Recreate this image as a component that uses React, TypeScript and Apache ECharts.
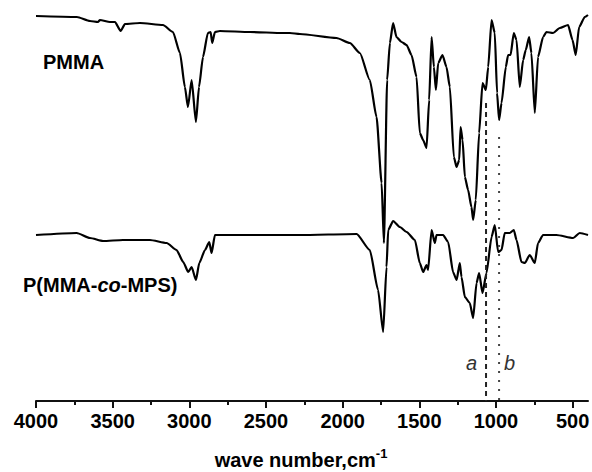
import React, { useEffect, useRef } from "react";
import * as echarts from "echarts";

// PMMA spectrum (wavenumber, cm^-1) and transmittance (arbitrary offset units)
const pmmaWavenumber = [
  4000, 3733, 3648, 3596, 3583, 3518, 3485, 3448, 3420, 3322, 3172, 3107, 3061, 3029, 3009, 2985, 2957, 2937,
  2911, 2879, 2861, 2851, 2833, 2801, 2605, 2390, 2344, 2279, 2040, 1953, 1888, 1823, 1779, 1746, 1731, 1710,
  1692, 1671, 1649, 1616, 1583, 1551, 1518, 1497, 1475, 1453, 1436, 1420, 1405, 1392, 1377, 1349, 1323, 1301,
  1275, 1257, 1240, 1231, 1218, 1203, 1182, 1160, 1149, 1132, 1110, 1088, 1066, 1051, 1029, 1008, 993, 980,
  964, 936, 921, 905, 884, 866, 845, 823, 806, 784, 769, 747, 726, 693, 671, 628, 584, 530, 501, 480, 458, 421, 400,
];
const pmmaTransmittance = [
  385, 384, 380, 379, 381, 379, 379, 370, 377, 378, 376, 369, 348, 314, 294, 321, 279, 314,
  344, 368, 369, 358, 369, 370, 369, 368, 368, 367, 363, 358, 348, 321, 284, 218, 158, 321,
  358, 378, 364, 359, 356, 346, 324, 268, 261, 253, 301, 364, 334, 311, 338, 346, 334, 314,
  244, 234, 241, 274, 261, 224, 211, 194, 181, 201, 268, 318, 311, 334, 381, 368, 308, 281,
  298, 334, 346, 346, 368, 361, 314, 341, 351, 364, 348, 288, 344, 364, 369, 368, 373, 376, 361, 346, 374, 384, 386,
];

// P(MMA-co-MPS) spectrum
const copolyWavenumber = [
  4000, 3735, 3648, 3563, 3433, 3257, 3148, 3083, 3040, 3007, 2985, 2957, 2935, 2898, 2870, 2855, 2833, 2716,
  2279, 1909, 1823, 1769, 1736, 1714, 1703, 1671, 1627, 1583, 1529, 1497, 1475, 1453, 1443, 1420, 1399, 1388,
  1345, 1312, 1280, 1257, 1236, 1225, 1203, 1171, 1149, 1127, 1110, 1088, 1062, 1029, 1008, 986, 964, 943,
  910, 884, 866, 834, 812, 780, 747, 726, 693, 606, 497, 454, 400,
];
const copolyTransmittance = [
  166, 168, 163, 160, 161, 161, 158, 151, 139, 129, 134, 121, 138, 151, 159, 148, 166, 166,
  166, 167, 151, 111, 69, 134, 171, 180, 174, 169, 161, 138, 129, 136, 131, 171, 158, 166,
  166, 159, 129, 121, 138, 124, 104, 98, 83, 118, 128, 108, 128, 164, 176, 149, 151, 168,
  168, 171, 161, 139, 138, 146, 138, 158, 166, 166, 163, 168, 166,
];

const majorTicks = [4000, 3500, 3000, 2500, 2000, 1500, 1000, 500];
const minorTicks = [3750, 3250, 2750, 2250, 1750, 1250, 750];

// reference lines a (dashed) and b (dotted)
const markerWavenumbers = [1065, 980];
const markerTops = [298, 264];
const markerNames = ["a", "b"];

const FONT = "'Liberation Sans', Arial, sans-serif";

export default function App() {
  const ref = useRef<HTMLDivElement>(null);
  useEffect(() => {
    if (!ref.current) return;
    const chart = echarts.init(ref.current, null, { renderer: "svg" });
    const zip = (xs: number[], ys: number[]) => xs.map((x, i) => [x, ys[i]]);
    const spectrumStyle = {
      type: "line",
      showSymbol: false,
      smooth: 0.2,
      smoothMonotone: "x",
      lineStyle: { color: "#000", width: 2.2 },
    };
    const option: any = {
      animation: false,
      grid: { left: 36, right: 4, top: 1, bottom: 71, containLabel: false, outerBoundsMode: "none" },
      xAxis: [
        {
          type: "value",
          min: 400,
          max: 4000,
          inverse: true,
          splitLine: { show: false },
          axisLine: { lineStyle: { color: "#111", width: 2 } },
          axisTick: { customValues: majorTicks, length: 7, lineStyle: { color: "#111", width: 2 } },
          axisLabel: {
            customValues: majorTicks,
            formatter: (v: number) => String(v),
            fontSize: 20,
            fontWeight: "bold",
            color: "#000",
            margin: 10,
            fontFamily: FONT,
          },
          name: "{a|wave number,cm}{b|-1}",
          nameLocation: "middle",
          nameGap: 46,
          nameTextStyle: {
            padding: [0, 22, 0, 0],
            rich: {
              a: { fontSize: 20, fontWeight: "bold", color: "#000", fontFamily: FONT },
              b: { fontSize: 13, fontWeight: "bold", color: "#000", fontFamily: FONT, padding: [0, 0, 12, 0] },
            },
          },
        },
        {
          type: "value",
          min: 400,
          max: 4000,
          inverse: true,
          position: "bottom",
          splitLine: { show: false },
          axisLine: { show: false },
          axisTick: { customValues: minorTicks, length: 4, lineStyle: { color: "#111", width: 2 } },
          axisLabel: { show: false },
        },
      ],
      yAxis: { type: "value", min: 0, max: 400, show: false },
      series: [
        { ...spectrumStyle, name: "PMMA", data: zip(pmmaWavenumber, pmmaTransmittance) },
        { ...spectrumStyle, name: "P(MMA-co-MPS)", data: zip(copolyWavenumber, copolyTransmittance) },
        {
          name: "a",
          type: "line",
          data: [
            [markerWavenumbers[0], markerTops[0]],
            [markerWavenumbers[0], 0],
          ],
          showSymbol: false,
          lineStyle: { color: "#222", width: 2, type: [5, 4] },
        },
        {
          name: "b",
          type: "line",
          data: [
            [markerWavenumbers[1], markerTops[1]],
            [markerWavenumbers[1], 0],
          ],
          showSymbol: false,
          lineStyle: { color: "#444", width: 2, type: [2, 7] },
        },
      ],
      graphic: [
        {
          type: "text",
          left: 43,
          top: 52,
          style: { text: "PMMA", fontSize: 20, fontWeight: "bold", fill: "#000", fontFamily: FONT },
        },
        {
          type: "text",
          left: 23,
          top: 275,
          style: {
            text: "{n|P(MMA-}{i|co}{n|-MPS)}",
            rich: {
              n: { fontSize: 20, fontWeight: "bold", fill: "#000", fontFamily: FONT },
              i: { fontSize: 20, fontWeight: "bold", fontStyle: "italic", fill: "#000", fontFamily: FONT },
            },
          },
        },
        {
          type: "text",
          left: 466,
          top: 353,
          style: { text: markerNames[0], fontSize: 20, fontStyle: "italic", fill: "#333", fontFamily: FONT },
        },
        {
          type: "text",
          left: 504,
          top: 353,
          style: { text: markerNames[1], fontSize: 20, fontStyle: "italic", fill: "#333", fontFamily: FONT },
        },
      ],
    };
    chart.setOption(option);
    return () => chart.dispose();
  }, []);
  return (
    <div
      ref={ref}
      style={{ position: "fixed", left: 0, top: 0, width: 592, height: 472, background: "#fff" }}
    />
  );
}
